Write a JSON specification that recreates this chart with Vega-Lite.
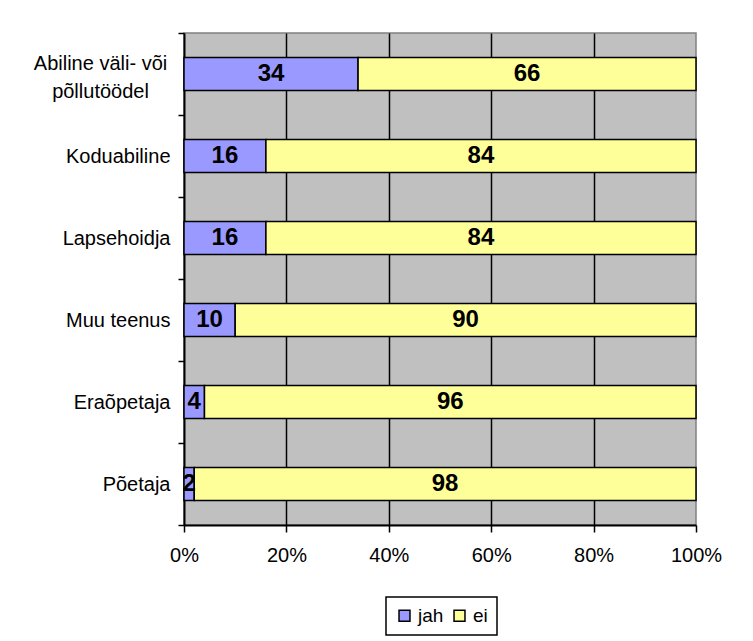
{
  "$schema": "https://vega.github.io/schema/vega-lite/v6.json",
  "width": 512,
  "height": 492,
  "autosize": {"type": "none"},
  "padding": {"left": 184, "top": 33, "right": 57, "bottom": 116},
  "background": "white",
  "config": {
    "font": "Liberation Sans",
    "view": {"fill": "#C0C0C0", "stroke": "#808080", "strokeWidth": 1.5}
  },
  "data": {
    "values": [
      {"kat": "Abiline väli- või põllutöödel", "vastus": "jah", "o": 1, "v": 34},
      {"kat": "Abiline väli- või põllutöödel", "vastus": "ei", "o": 2, "v": 66},
      {"kat": "Koduabiline", "vastus": "jah", "o": 1, "v": 16},
      {"kat": "Koduabiline", "vastus": "ei", "o": 2, "v": 84},
      {"kat": "Lapsehoidja", "vastus": "jah", "o": 1, "v": 16},
      {"kat": "Lapsehoidja", "vastus": "ei", "o": 2, "v": 84},
      {"kat": "Muu teenus", "vastus": "jah", "o": 1, "v": 10},
      {"kat": "Muu teenus", "vastus": "ei", "o": 2, "v": 90},
      {"kat": "Eraõpetaja", "vastus": "jah", "o": 1, "v": 4},
      {"kat": "Eraõpetaja", "vastus": "ei", "o": 2, "v": 96},
      {"kat": "Põetaja", "vastus": "jah", "o": 1, "v": 2},
      {"kat": "Põetaja", "vastus": "ei", "o": 2, "v": 98}
    ]
  },
  "encoding": {
    "y": {
      "field": "kat",
      "type": "nominal",
      "sort": null,
      "title": null,
      "scale": {"paddingInner": 0, "paddingOuter": 0},
      "axis": {
        "labelExpr": "datum.value == 'Abiline väli- või põllutöödel' ? ['Abiline väli- või', 'põllutöödel'] : datum.value",
        "labelFontSize": 20,
        "labelColor": "black",
        "labelPadding": {"condition": {"test": "datum.value == 'Abiline väli- või põllutöödel'", "value": 78}, "value": 8},
        "labelAlign": {"condition": {"test": "datum.value == 'Abiline väli- või põllutöödel'", "value": "center"}, "value": "right"},
        "labelOffset": {"condition": {"test": "datum.value == 'Abiline väli- või põllutöödel'", "value": -11}, "value": 0},
        "labelLineHeight": 28,
        "labelBound": false,
        "tickBand": "extent",
        "tickColor": "black",
        "tickSize": 6,
        "tickWidth": 1.5,
        "domainColor": "black",
        "domainWidth": 2,
        "grid": false
      }
    },
    "order": {"field": "o", "type": "quantitative"}
  },
  "layer": [
    {
      "mark": {"type": "bar", "stroke": "black", "strokeWidth": 1.5, "height": {"band": 0.4}},
      "encoding": {
        "x": {
          "field": "v",
          "type": "quantitative",
          "stack": "normalize",
          "title": null,
          "scale": {"domain": [0, 1], "nice": false},
          "axis": {
            "format": "%",
            "values": [0, 0.2, 0.4, 0.6, 0.8, 1],
            "labelFontSize": 20,
            "labelColor": "black",
            "labelPadding": 13,
            "labelFlush": false,
            "tickColor": "black",
            "tickSize": 7,
            "tickWidth": 1.5,
            "domainColor": "black",
            "domainWidth": 2,
            "grid": true,
            "gridColor": {"condition": {"test": "datum.value == 1 || datum.value == 0", "value": "transparent"}, "value": "black"},
            "gridWidth": 1.5,
            "gridOpacity": 1
          }
        },
        "color": {
          "field": "vastus",
          "type": "nominal",
          "title": null,
          "scale": {"domain": ["jah", "ei"], "range": ["#9999FF", "#FFFF99"]},
          "legend": {
            "orient": "none",
            "legendX": 202,
            "legendY": 564,
            "direction": "horizontal",
            "symbolType": "square",
            "symbolSize": 120,
            "symbolStrokeColor": "black",
            "symbolStrokeWidth": 1.5,
            "symbolOpacity": 1,
            "labelFontSize": 19,
            "labelColor": "black",
            "labelOffset": 4,
            "columnPadding": 6,
            "strokeColor": "black",
            "padding": 9,
            "encode": {"legend": {"update": {"strokeWidth": {"value": 1.5}}}}
          }
        }
      }
    },
    {
      "mark": {"type": "text", "fontSize": 24, "fontWeight": "bold", "color": "black", "baseline": "middle"},
      "encoding": {
        "x": {
          "field": "v",
          "type": "quantitative",
          "stack": "normalize",
          "bandPosition": 0.5
        },
        "text": {"field": "v", "type": "quantitative"}
      }
    }
  ]
}
